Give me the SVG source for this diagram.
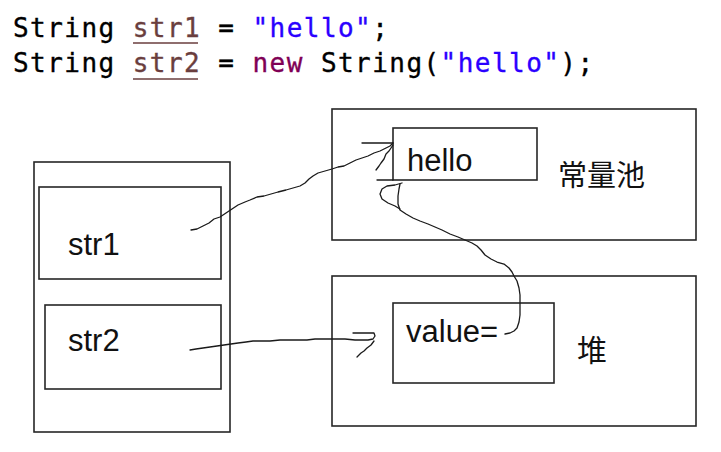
<svg xmlns="http://www.w3.org/2000/svg" width="721" height="452" viewBox="0 0 721 452">
<style>
.box{fill:none;stroke:#262626;stroke-width:1.6}
.lbl{font-family:"Liberation Sans",Arial,sans-serif;font-size:31px;fill:#111}
.cjk{font-family:"Noto Sans CJK SC","Noto Sans",sans-serif;font-size:29px;fill:#111}
.code{font-family:"DejaVu Sans Mono","Liberation Mono",monospace;font-size:26px;letter-spacing:1.45px;fill:#000;stroke:#000;stroke-width:0.35}
.var{fill:#6A3E3E;stroke:#6A3E3E}
.str{fill:#2A00FF;stroke:#2A00FF}
.kw{fill:#7F0055;stroke:#7F0055}
.ul{stroke:#6A3E3E;stroke-width:1.5}
.ink{fill:none;stroke:#1a1a1a;stroke-width:1.3;stroke-linejoin:round;stroke-linecap:round}
</style>
<rect width="721" height="452" fill="#fff"/>
<g id="code">
<text class="code" x="13" y="37">String <tspan class="var">str1</tspan> = <tspan class="str">"hello"</tspan>;</text>
<text class="code" x="13" y="72">String <tspan class="var">str2</tspan> = <tspan class="kw">new</tspan> String(<tspan class="str">"hello"</tspan>);</text>
<line class="ul" x1="133" y1="43" x2="198" y2="43"/>
<line class="ul" x1="133" y1="79" x2="198" y2="79"/>
</g>
<g id="stack">
<rect class="box" x="34" y="162" width="196" height="270"/>
</g>
<g id="str1">
<rect class="box" x="39" y="187" width="182" height="92"/>
<text class="lbl" x="68" y="255">str1</text>
</g>
<g id="str2">
<rect class="box" x="45" y="305" width="176" height="84"/>
<text class="lbl" x="68" y="351">str2</text>
</g>
<g id="constant-pool">
<rect class="box" x="332" y="109" width="364" height="131"/>
<text class="cjk" x="558" y="186">常量池</text>
</g>
<g id="hello">
<rect class="box" x="393" y="128" width="144" height="52"/>
<text class="lbl" x="407" y="171">hello</text>
</g>
<g id="heap">
<rect class="box" x="332" y="276" width="364" height="150"/>
<text class="cjk" x="577" y="361" style="font-size:30px">堆</text>
</g>
<g id="value">
<rect class="box" x="393" y="303" width="161" height="80"/>
<text class="lbl" x="406" y="342">value=</text>
</g>
<g id="connectors">
<polyline class="ink" points="191,230 197,229 203,226 209,223 214,219 220,217 226,213 232,209 238,205 245,202 250,200 257,197 264,196 271,194 278,192 286,190 293,188 300,186 305,183 309,179 313,176 318,173 325,171 332,169 338,167 344,166 350,163 356,160 362,158 368,156 374,153 380,151 386,148 390,146 393,143"/>
<line class="ink" x1="362" y1="143" x2="393" y2="143"/>
<polyline class="ink" points="393,145 389,151 386,154 384,159 381,163 379,166 376,170"/>
<polyline class="ink" points="505,334 510,333 514,331 517,328 519,322 520,315 520,305 520,295 519,288 517,281 514,276 512,272 509,268 504,264 497,262 491,259 485,255 481,250 477,246 472,243 465,240 458,237 450,234 442,230 435,227 428,224 420,221 413,218 406,214 400,210 398,204 398,196 399,189 400,184"/>
<line class="ink" x1="377" y1="180" x2="393" y2="180"/>
<polyline class="ink" points="402,183 395,185 387,186 382,189 380,194 382,199 388,203 395,206 400,209"/>
<polyline class="ink" points="190,350 196,349 203,348 210,347 217,346 224,345 231,344 238,343 246,342 253,341 260,341 270,341 280,340 290,340 300,340 307,340 315,339 325,339 335,339 345,339 355,340 362,340 368,340 373,339 375,336 374,333 353,333"/>
<polyline class="ink" points="374,341 371,345 367,348 364,351 361,353 357,357"/>
</g>
</svg>
